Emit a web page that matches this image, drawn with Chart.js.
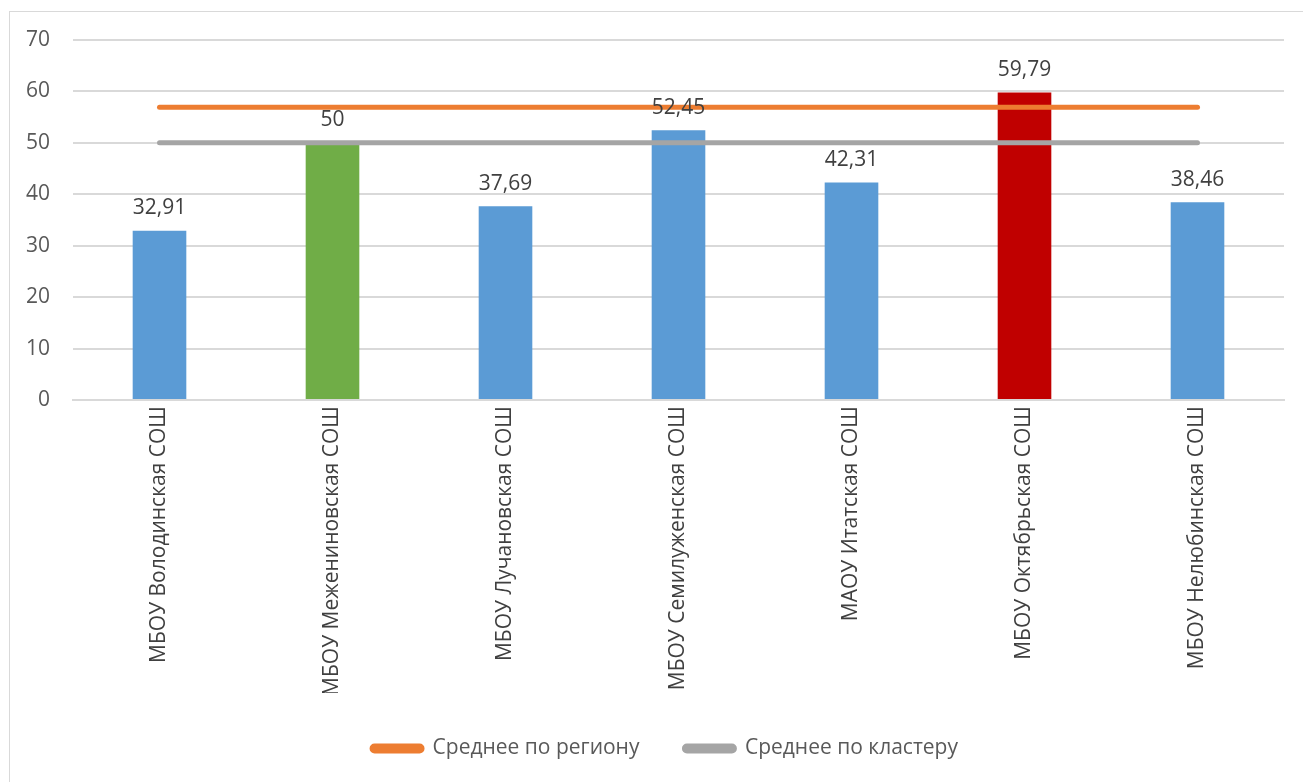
<!DOCTYPE html>
<html lang="ru">
<head>
<meta charset="utf-8">
<title>Результаты по школам</title>
<script src="https://cdn.jsdelivr.net/npm/chart.js@4/dist/chart.umd.min.js"></script>
<style>
    html, body { margin: 0; padding: 0; background: #fff; overflow: hidden; }
    #wrap {
        position: absolute;
        left: 9px;
        top: 11px;
        width: 1310px;
        height: 790px;
        border: 1px solid #d9d9d9;
        background: #fff;
    }
    #wrap canvas { display: block; }
</style>
</head>
<body>
<div id="wrap"><canvas id="schoolChart" width="1310" height="771"></canvas></div>
<script>
// Школы и их результаты
const schools = [
    'МБОУ Володинская СОШ',
    'МБОУ Межениновская СОШ',
    'МБОУ Лучановская СОШ',
    'МБОУ Семилуженская СОШ',
    'МАОУ Итатская СОШ',
    'МБОУ Октябрьская СОШ',
    'МБОУ Нелюбинская СОШ'
];
const scores = [32.91, 50, 37.69, 52.45, 42.31, 59.79, 38.46];
const barColors = ['#5b9bd5', '#70ad47', '#5b9bd5', '#5b9bd5', '#5b9bd5', '#c00000', '#5b9bd5'];

// Средние значения
const regionAvg = [56.9, 56.9, 56.9, 56.9, 56.9, 56.9, 56.9];
const clusterAvg = [50, 50, 50, 50, 50, 50, 50];

const yTicks = [0, 10, 20, 30, 40, 50, 60, 70];

const FONT = "'Open Sans', 'DejaVu Sans', sans-serif";

// подписи значений над столбцами
const barValueLabels = {
    id: 'barValueLabels',
    afterDatasetsDraw(chart) {
        const idx = chart.data.datasets.findIndex(d => d.type === 'bar');
        const meta = chart.getDatasetMeta(idx);
        const ctx = chart.ctx;
        ctx.save();
        ctx.font = '21px ' + FONT;
        ctx.fillStyle = '#404040';
        ctx.textAlign = 'center';
        ctx.textBaseline = 'bottom';
        meta.data.forEach((bar, i) => {
            const txt = String(scores[i]).replace('.', ',');
            ctx.fillText(txt, bar.x, bar.y - 12);
        });
        ctx.restore();
    }
};

const ctx = document.getElementById('schoolChart').getContext('2d');

const chart = new Chart(ctx, {
    data: {
        labels: schools,
        datasets: [{
            type: 'line',
            label: 'Среднее по региону',
            data: regionAvg,
            borderColor: '#ed7d31',
            backgroundColor: '#ed7d31',
            borderWidth: 5,
            borderCapStyle: 'round',
            pointRadius: 0,
            pointHoverRadius: 0
        }, {
            type: 'line',
            label: 'Среднее по кластеру',
            data: clusterAvg,
            borderColor: '#a5a5a5',
            backgroundColor: '#a5a5a5',
            borderWidth: 5,
            borderCapStyle: 'round',
            pointRadius: 0,
            pointHoverRadius: 0
        }, {
            type: 'bar',
            label: 'Результат',
            data: scores,
            backgroundColor: barColors,
            barPercentage: 0.62,
            categoryPercentage: 0.5
        }]
    },
    options: {
        responsive: false,
        animation: false,
        layout: {
            padding: { top: 28, right: 0, bottom: 14, left: 0 }
        },
        plugins: {
            legend: {
                position: 'bottom',
                labels: {
                    filter: item => item.text !== 'Результат',
                    color: '#595959',
                    font: { family: FONT, size: 21 },
                    boxWidth: 50,
                    boxHeight: 5,
                    useBorderRadius: true,
                    borderRadius: 2.5,
                    padding: 45
                }
            },
            tooltip: { enabled: false }
        },
        scales: {
            x: {
                grid: { display: false, drawTicks: false },
                border: { display: true, color: '#d9d9d9', width: 2 },
                ticks: {
                    color: '#404040',
                    font: { family: FONT, size: 21 },
                    minRotation: 90,
                    maxRotation: 90,
                    padding: 6
                },
                afterFit(scale) { scale.height = 293; }
            },
            y: {
                min: 0,
                max: 70,
                afterBuildTicks(scale) {
                    scale.ticks = yTicks.map(v => ({ value: v }));
                },
                grid: {
                    color: '#d9d9d9',
                    lineWidth: 2,
                    drawTicks: true,
                    tickLength: 23,
                    tickColor: 'rgba(0,0,0,0)'
                },
                border: { display: false },
                ticks: {
                    color: '#595959',
                    font: { family: FONT, size: 21 },
                    padding: 0
                },
                afterFit(scale) { scale.width = 63; }
            },
            // пустая ось справа — только отступ области построения
            yRight: {
                position: 'right',
                display: true,
                grid: { display: false, drawTicks: false },
                border: { display: false },
                ticks: { display: false },
                afterFit(scale) { scale.width = 36; }
            }
        }
    },
    plugins: [barValueLabels]
});
</script>
</body>
</html>
